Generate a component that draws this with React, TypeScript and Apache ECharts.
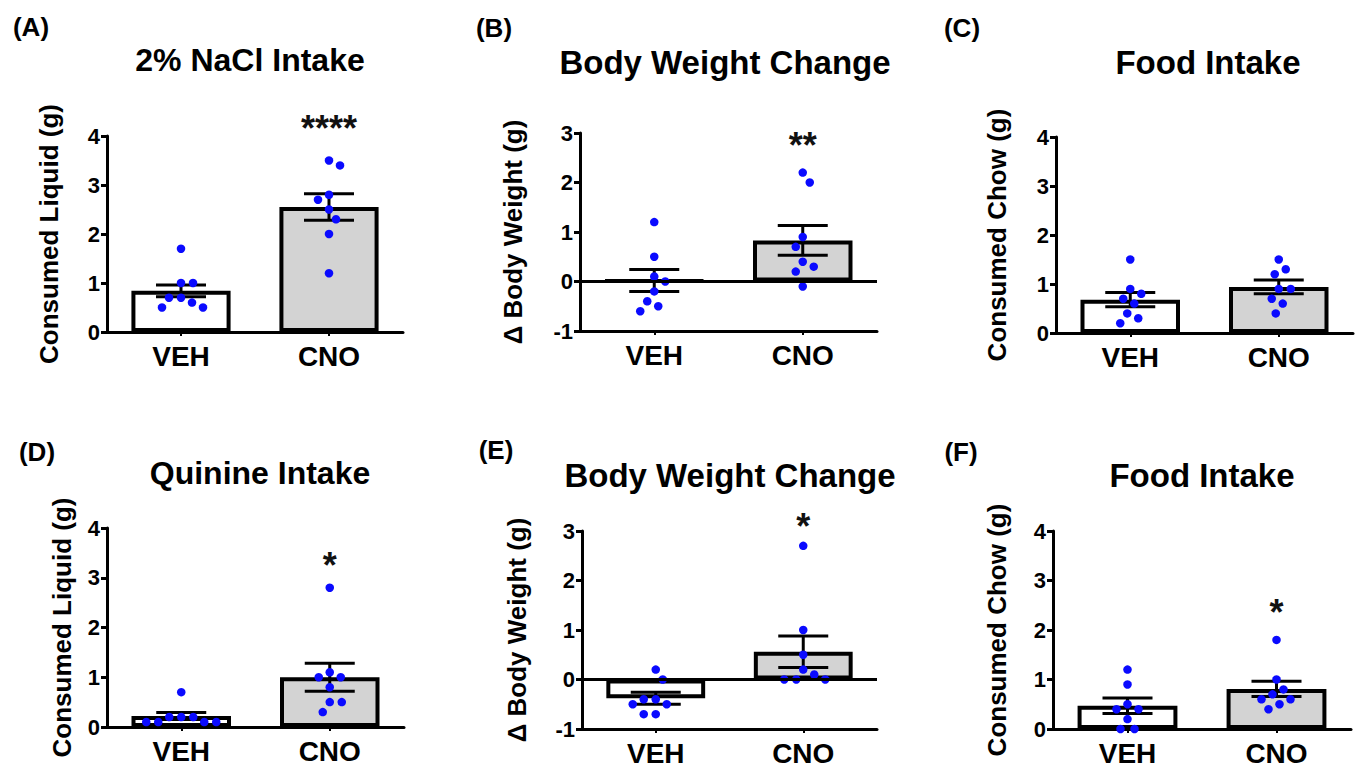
import React, { useEffect, useRef } from "react";
import * as echarts from "echarts";

// ---------- data ----------
const categories = ["VEH", "CNO"];
const panelLetters = ["(A)", "(B)", "(C)", "(D)", "(E)", "(F)"];
const panelTitles = [
  "2% NaCl Intake",
  "Body Weight Change",
  "Food Intake",
  "Quinine Intake",
  "Body Weight Change",
  "Food Intake",
];
const yAxisNames = [
  "Consumed Liquid (g)",
  "Δ Body Weight (g)",
  "Consumed Chow (g)",
  "Consumed Liquid (g)",
  "Δ Body Weight (g)",
  "Consumed Chow (g)",
];
const yMins = [0, -1, 0, 0, -1, 0];
const yMaxs = [4, 3, 4, 4, 3, 4];

// individual animals
const naclVeh = [1.7, 1.0, 1.0, 0.7, 0.7, 0.6, 0.5, 0.5];
const naclCno = [3.5, 3.4, 2.8, 2.7, 2.5, 2.3, 2.0, 1.2];
const bw1Veh = [1.2, 0.5, 0.1, 0.0, -0.2, -0.4, -0.5, -0.6];
const bw1Cno = [2.2, 2.0, 0.9, 0.7, 0.4, 0.3, 0.2, -0.1];
const food1Veh = [1.5, 0.9, 0.8, 0.7, 0.6, 0.4, 0.3, 0.2];
const food1Cno = [1.5, 1.3, 1.2, 0.9, 0.9, 0.7, 0.6, 0.4];
const quinVeh = [0.7, 0.2, 0.2, 0.2, 0.1, 0.1, 0.1, 0.1];
const quinCno = [2.8, 1.1, 1.0, 1.0, 0.8, 0.5, 0.5, 0.3];
const bw2Veh = [0.2, 0.0, -0.4, -0.4, -0.5, -0.5, -0.7, -0.7];
const bw2Cno = [2.7, 1.0, 0.5, 0.2, 0.1, 0.0, 0.0, 0.0];
const food2Veh = [1.2, 0.9, 0.5, 0.4, 0.4, 0.2, 0.0, 0.0];
const food2Cno = [1.8, 1.0, 0.8, 0.7, 0.6, 0.6, 0.5, 0.4];

// group means and SEM (VEH, CNO)
const meansVeh = [0.84, 0.02, 0.68, 0.22, -0.38, 0.47];
const meansCno = [2.55, 0.83, 0.94, 1.0, 0.56, 0.81];
const semVeh = [0.12, 0.22, 0.145, 0.07, 0.12, 0.155];
const semCno = [0.27, 0.3, 0.14, 0.28, 0.32, 0.155];

// significance annotations (over CNO)
const starTexts = ["****", "**", "", "*", "*", "*"];
const starLevels = [4.33, 2.91, 0, 3.41, 3.26, 2.53];

const pointsVeh = [naclVeh, bw1Veh, food1Veh, quinVeh, bw2Veh, food2Veh];
const pointsCno = [naclCno, bw1Cno, food1Cno, quinCno, bw2Cno, food2Cno];

// ---------- layout ----------
const FONT = '"Liberation Sans", Arial, Helvetica, sans-serif';
const layout = [
  { left: 107, top: 136, width: 296, height: 196, nameGap: 45, title: [250, 60], letter: [31, 27] },
  { left: 580, top: 133, width: 297, height: 198, nameGap: 54, title: [725, 62], letter: [494, 28] },
  { left: 1056, top: 137, width: 297, height: 196, nameGap: 46, title: [1208, 62], letter: [962, 28] },
  { left: 107, top: 528, width: 297, height: 199, nameGap: 32, title: [260, 473], letter: [37, 452] },
  { left: 582, top: 531, width: 295, height: 198, nameGap: 52, title: [730, 475], letter: [496, 450] },
  { left: 1053, top: 531, width: 298, height: 198, nameGap: 43, title: [1202, 475], letter: [961, 452] },
];

// simple beeswarm: returns horizontal pixel offsets
function beeswarm(values: number[], pxPerUnit: number, minDist: number): number[] {
  const order = values.map((_, i) => i).sort((a, b) => values[b] - values[a]);
  const placed: { x: number; y: number }[] = [];
  const offsets = new Array(values.length).fill(0);
  let flip = 1;
  for (const idx of order) {
    const y = values[idx] * pxPerUnit;
    let chosen = 0;
    for (let k = 0; k < 400; k++) {
      const mag = Math.ceil(k / 2);
      const cand = k === 0 ? 0 : (k % 2 === 1 ? flip : -flip) * mag;
      if (placed.every((p) => Math.hypot(p.x - cand, p.y - y) >= minDist)) {
        chosen = cand;
        break;
      }
    }
    if (chosen !== 0) flip = -flip;
    placed.push({ x: chosen, y });
    offsets[idx] = chosen;
  }
  return offsets;
}

function buildOption() {
  const grid: any[] = [];
  const xAxis: any[] = [];
  const yAxis: any[] = [];
  const series: any[] = [];
  const graphic: any[] = [];
  const n = layout.length;

  layout.forEach((l, i) => {
    grid.push({ left: l.left, top: l.top, width: l.width, height: l.height });
    xAxis[i] = {
      type: "category",
      gridIndex: i,
      data: categories,
      boundaryGap: true,
      axisLine: { show: true, onZero: false, lineStyle: { color: "#000", width: 3 } },
      axisTick: { show: true, alignWithLabel: true, length: 4, lineStyle: { color: "#000", width: 2 } },
      axisLabel: { color: "#000", fontSize: 28, fontWeight: "bold", fontFamily: FONT, margin: 10 },
      splitLine: { show: false },
    };
    xAxis[n + i] = { type: "value", gridIndex: i, min: -0.5, max: 1.5, show: false };
    yAxis.push({
      type: "value",
      gridIndex: i,
      min: yMins[i],
      max: yMaxs[i],
      interval: 1,
      axisLine: { show: true, onZero: false, lineStyle: { color: "#000", width: 3 } },
      axisTick: { show: true, length: 6, lineStyle: { color: "#000", width: 3 } },
      axisLabel: { color: "#000", fontSize: 22, fontWeight: "bold", fontFamily: FONT, margin: 7 },
      splitLine: { show: false },
      name: yAxisNames[i],
      nameLocation: "middle",
      nameGap: l.nameGap,
      nameTextStyle: { color: "#000", fontSize: 26, fontWeight: "bold", fontFamily: FONT },
    });

    const bar: any = {
      type: "bar",
      xAxisIndex: i,
      yAxisIndex: i,
      barWidth: "67%",
      z: 2,
      itemStyle: { borderColor: "#000", borderWidth: 4 },
      data: [
        { value: meansVeh[i], itemStyle: { color: "#ffffff" } },
        { value: meansCno[i], itemStyle: { color: "#d3d3d3" } },
      ],
    };
    if (yMins[i] < 0) {
      bar.markLine = {
        silent: true,
        symbol: ["none", "none"],
        label: { show: false },
        lineStyle: { color: "#000", width: 3, type: "solid" },
        data: [{ yAxis: 0 }],
      };
    }
    series.push(bar);

    series.push({
      type: "custom",
      xAxisIndex: n + i,
      yAxisIndex: i,
      z: 3,
      data: [
        [0, meansVeh[i], semVeh[i]],
        [1, meansCno[i], semCno[i]],
      ],
      renderItem: (params: any, api: any) => {
        const x = api.value(0);
        const m = api.value(1);
        const s = api.value(2);
        const top = api.coord([x, m + s]);
        const bot = api.coord([x, m - s]);
        const hw = 25;
        const st = { stroke: "#000", lineWidth: 3 };
        return {
          type: "group",
          children: [
            { type: "line", shape: { x1: top[0], y1: top[1], x2: bot[0], y2: bot[1] }, style: st },
            { type: "line", shape: { x1: top[0] - hw, y1: top[1], x2: top[0] + hw, y2: top[1] }, style: st },
            { type: "line", shape: { x1: bot[0] - hw, y1: bot[1], x2: bot[0] + hw, y2: bot[1] }, style: st },
          ],
        };
      },
    });

    const pxPerUnit = l.height / (yMaxs[i] - yMins[i]);
    const pxPerCat = l.width / 2;
    const dots: number[][] = [];
    [pointsVeh[i], pointsCno[i]].forEach((vals, g) => {
      const offs = beeswarm(vals, pxPerUnit, 12);
      vals.forEach((v, k) => dots.push([g + offs[k] / pxPerCat, v]));
    });
    series.push({
      type: "scatter",
      xAxisIndex: n + i,
      yAxisIndex: i,
      z: 4,
      symbolSize: 8.5,
      itemStyle: { color: "#0a0aff", opacity: 1 },
      data: dots,
    });

    if (starTexts[i]) {
      series.push({
        type: "custom",
        xAxisIndex: n + i,
        yAxisIndex: i,
        z: 5,
        clip: false,
        data: [[1, starLevels[i]]],
        renderItem: (params: any, api: any) => {
          const p = api.coord([api.value(0), api.value(1)]);
          const fs = 36;
          return {
            type: "text",
            x: p[0],
            y: p[1] + fs * 0.23,
            style: {
              text: starTexts[i],
              fill: "#111",
              fontSize: fs,
              fontWeight: "bold",
              fontFamily: FONT,
              align: "center",
              verticalAlign: "middle",
            },
          };
        },
      });
    }

    graphic.push({
      type: "text",
      x: l.title[0],
      y: l.title[1],
      style: {
        text: panelTitles[i],
        fill: "#000",
        fontSize: i === 0 || i === 3 ? 32 : 33,
        fontWeight: "bold",
        fontFamily: FONT,
        align: "center",
        verticalAlign: "middle",
        textAlign: "center",
        textVerticalAlign: "middle",
      },
    });
    graphic.push({
      type: "text",
      x: l.letter[0],
      y: l.letter[1],
      style: {
        text: panelLetters[i],
        fill: "#000",
        fontSize: 26,
        fontWeight: "bold",
        fontFamily: FONT,
        align: "center",
        verticalAlign: "middle",
        textAlign: "center",
        textVerticalAlign: "middle",
      },
    });
  });

  return {
    animation: false,
    backgroundColor: "#ffffff",
    grid,
    xAxis,
    yAxis,
    series,
    graphic,
  };
}

export default function App() {
  const ref = useRef<HTMLDivElement>(null);
  useEffect(() => {
    if (!ref.current) return;
    const chart = echarts.init(ref.current, undefined, { renderer: "svg" });
    chart.setOption(buildOption() as any);
    return () => chart.dispose();
  }, []);
  return (
    <div
      ref={ref}
      style={{ position: "absolute", left: 0, top: 0, width: 1360, height: 768, background: "#fff" }}
    />
  );
}
